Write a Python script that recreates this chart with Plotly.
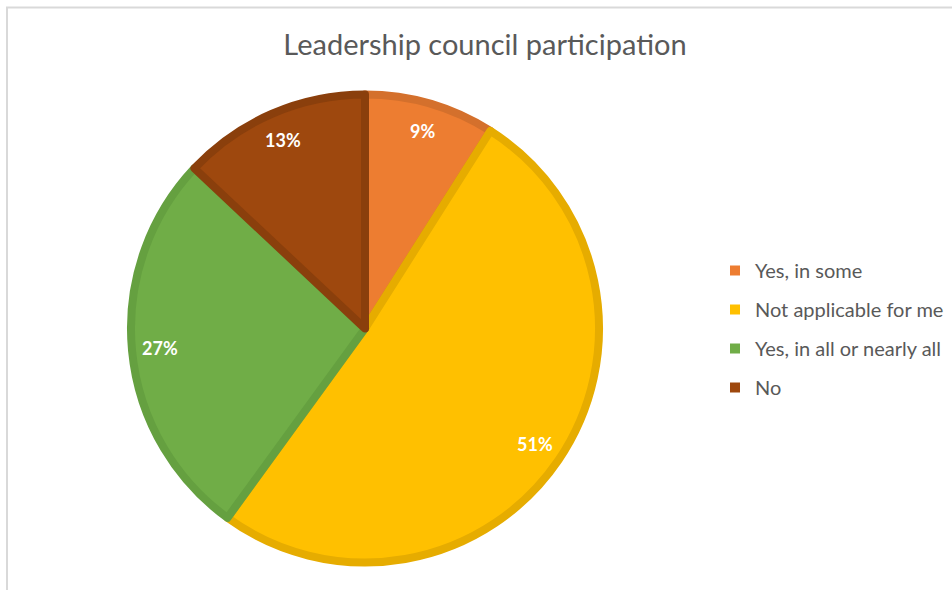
import math
import plotly.graph_objects as go

# Survey answers, share of respondents (%)
categories = ["Yes, in some", "Not applicable for me", "Yes, in all or nearly all", "No"]
shares = [9, 51, 27, 13]

fill_colors = ["#ED7D31", "#FFC000", "#70AD47", "#9E480E"]
edge_colors = ["#D4702C", "#E6AC00", "#65A040", "#8A3F0C"]

W, H = 952, 590
FONT = "Lato"
GREY_TEXT = "#595959"

# pie geometry in pixels (centre and radius of the filled disc)
cx, cy, r = 365, 328.5, 234
dom_x = [(cx - r) / W, (cx + r) / W]
dom_y = [1 - (cy + r) / H, 1 - (cy - r) / H]

fig = go.Figure()

fig.add_trace(go.Pie(
    labels=categories,
    values=shares,
    sort=False,
    direction="clockwise",
    rotation=0,
    marker=dict(colors=fill_colors, line=dict(color=edge_colors, width=8)),
    textinfo="none",
    hoverinfo="label+percent",
    showlegend=False,
    domain=dict(x=dom_x, y=dom_y),
))

# legend entries, one group per answer so the spacing can be opened up
for name, col in zip(categories, fill_colors):
    fig.add_trace(go.Scatter(
        x=[None], y=[None], mode="markers", name=name,
        legendgroup=name,
        marker=dict(symbol="square", size=10, color=col),
    ))

# percentage labels placed along each slice's bisector
total = sum(shares)
annotations = []
cum = 0
label_r = 0.865 * (r + 4)
for v in shares:
    mid = (cum + v / 2) / total * 2 * math.pi
    cum += v
    px = cx + label_r * math.sin(mid)
    py = cy - label_r * math.cos(mid)
    annotations.append(dict(
        x=px / W, y=1 - py / H, xref="paper", yref="paper",
        text=f"<b>{round(v / total * 100)}%</b>", showarrow=False,
        font=dict(family=FONT, size=18, color="white"),
        xanchor="center", yanchor="middle",
    ))

fig.update_layout(
    width=W, height=H,
    margin=dict(l=0, r=0, t=0, b=0),
    paper_bgcolor="white",
    plot_bgcolor="white",
    title=dict(
        text="Leadership council participation",
        x=485 / W, xanchor="center",
        y=1 - 45 / H, yanchor="middle",
        font=dict(family=FONT, size=29, color=GREY_TEXT),
    ),
    xaxis=dict(visible=False),
    yaxis=dict(visible=False),
    legend=dict(
        x=715 / W, xanchor="left",
        y=1 - 329 / H, yanchor="middle",
        font=dict(family=FONT, size=20, color=GREY_TEXT),
        tracegroupgap=10,
        itemclick=False, itemdoubleclick=False,
        bgcolor="rgba(0,0,0,0)",
    ),
    annotations=annotations,
    shapes=[dict(
        type="rect", xref="paper", yref="paper",
        x0=7 / W, x1=1.02, y0=-0.02, y1=1 - 7.5 / H,
        line=dict(color="#D9D9D9", width=2), fillcolor="rgba(0,0,0,0)",
        layer="below",
    )],
)

fig.write_html("out.html")
